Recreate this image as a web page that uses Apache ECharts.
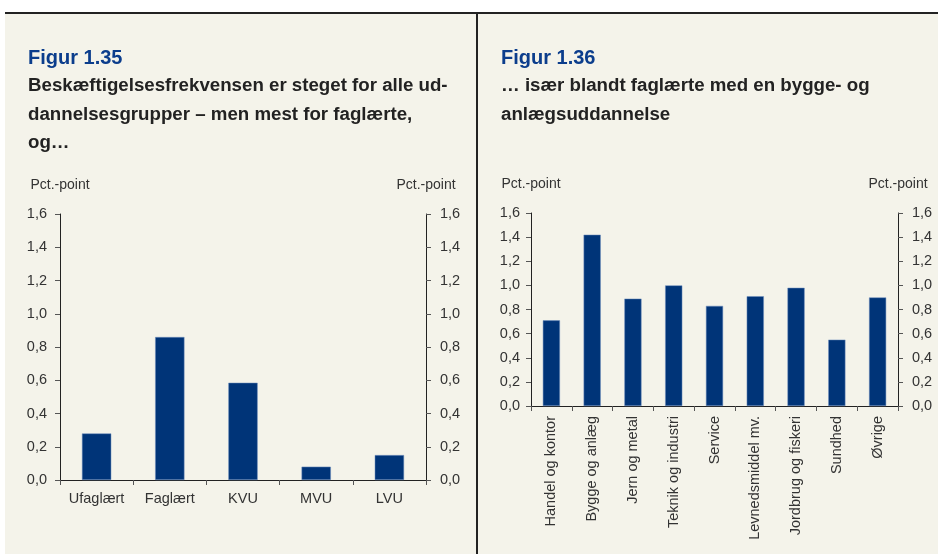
<!DOCTYPE html>
<html>
<head>
<meta charset="utf-8">
<script src="https://cdn.jsdelivr.net/npm/echarts@6/dist/echarts.min.js"></script>
<style>
  body { margin: 0; background: #ffffff; }
  #panel {
    position: absolute; left: 5px; top: 12px; width: 933px; height: 542px;
    background: #f4f3ea; border-top: 2px solid #222;
  }
  #divider {
    position: absolute; left: 476px; top: 12px; width: 2px; height: 542px; background: #222;
  }
  #chart { position: absolute; left: 0; top: 0; width: 938px; height: 554px; }
</style>
</head>
<body>
<div id="panel"></div>
<div id="divider"></div>
<div id="chart"></div>
<script>
// Figur 1.35 - uddannelsesgrupper
const groups = ["Ufaglært", "Faglært", "KVU", "MVU", "LVU"];
const groupValues = [0.28, 0.86, 0.585, 0.08, 0.15];

// Figur 1.36 - faglærte efter uddannelse
const trades = [
  "Handel og kontor", "Bygge og anlæg", "Jern og metal", "Teknik og industri",
  "Service", "Levnedsmiddel mv.", "Jordbrug og fiskeri", "Sundhed", "Øvrige"
];
const tradeValues = [0.71, 1.42, 0.89, 1.0, 0.83, 0.91, 0.98, 0.55, 0.9];

const axisMin = 0;
const axisMax = 1.6;
const axisStep = 0.2;

const FONT = "Liberation Sans, Arial, sans-serif";
const barColor = "#003478";
const textColor = "#333";

const fmt = (v) => v.toFixed(1).replace(".", ",");

const yAxisBase = (gridIndex, position, margin) => ({
  type: "value",
  gridIndex: gridIndex,
  position: position,
  min: axisMin,
  max: axisMax,
  interval: axisStep,
  name: "Pct.-point",
  nameLocation: "end",
  nameGap: 22,
  nameTextStyle: { color: textColor, fontSize: 14, fontFamily: FONT },
  axisLine: { show: true, lineStyle: { color: "#222", width: 1 } },
  axisTick: { show: true, length: 5, lineStyle: { color: "#555" } },
  axisLabel: { color: textColor, fontSize: 14.5, fontFamily: FONT, margin: margin, formatter: fmt },
  splitLine: { show: false },
});

const chartInstance = echarts.init(document.getElementById("chart"), null, { renderer: "canvas" });

const option = {
  backgroundColor: "transparent",
  animation: false,
  title: [
    {
      text: "Figur 1.35",
      left: 28, top: 46, padding: 0,
      textStyle: { color: "#0b3d8c", fontSize: 20, fontWeight: "bold", fontFamily: FONT, lineHeight: 24 },
    },
    {
      text: "Beskæftigelsesfrekvensen er steget for alle ud-\ndannelsesgrupper – men mest for faglærte,\nog…",
      left: 28, top: 72, padding: 0,
      textStyle: { color: "#222", fontSize: 18.7, fontWeight: "bold", fontFamily: FONT, lineHeight: 28.5 },
    },
    {
      text: "Figur 1.36",
      left: 501, top: 46, padding: 0,
      textStyle: { color: "#0b3d8c", fontSize: 20, fontWeight: "bold", fontFamily: FONT, lineHeight: 24 },
    },
    {
      text: "… især blandt faglærte med en bygge- og\nanlægsuddannelse",
      left: 501, top: 72, padding: 0,
      textStyle: { color: "#222", fontSize: 18.7, fontWeight: "bold", fontFamily: FONT, lineHeight: 28.5 },
    },
  ],
  grid: [
    { left: 60, right: 512, top: 214, bottom: 74 },
    { left: 531, right: 40, top: 213, bottom: 148 },
  ],
  xAxis: [
    {
      type: "category",
      gridIndex: 0,
      data: groups,
      axisLine: { lineStyle: { color: "#222" } },
      axisTick: { show: true, length: 5, lineStyle: { color: "#555" } },
      axisLabel: { color: textColor, fontSize: 14.5, fontFamily: FONT, margin: 11 },
    },
    {
      type: "category",
      gridIndex: 1,
      data: trades,
      axisLine: { lineStyle: { color: "#222" } },
      axisTick: { show: true, length: 5, lineStyle: { color: "#555" } },
      axisLabel: { color: textColor, fontSize: 14.5, fontFamily: FONT, margin: 10, rotate: 90, interval: 0 },
    },
  ],
  yAxis: [
    yAxisBase(0, "left", 13),
    yAxisBase(0, "right", 14),
    yAxisBase(1, "left", 11),
    yAxisBase(1, "right", 14),
  ],
  series: [
    {
      type: "bar",
      xAxisIndex: 0,
      yAxisIndex: 0,
      data: groupValues,
      barWidth: "40%",
      itemStyle: { color: barColor, borderColor: "#6f8fbf", borderWidth: 0.5 },
    },
    {
      type: "bar",
      xAxisIndex: 1,
      yAxisIndex: 2,
      data: tradeValues,
      barWidth: "42%",
      itemStyle: { color: barColor, borderColor: "#6f8fbf", borderWidth: 0.5 },
    },
  ],
};

chartInstance.setOption(option);
</script>
</body>
</html>
